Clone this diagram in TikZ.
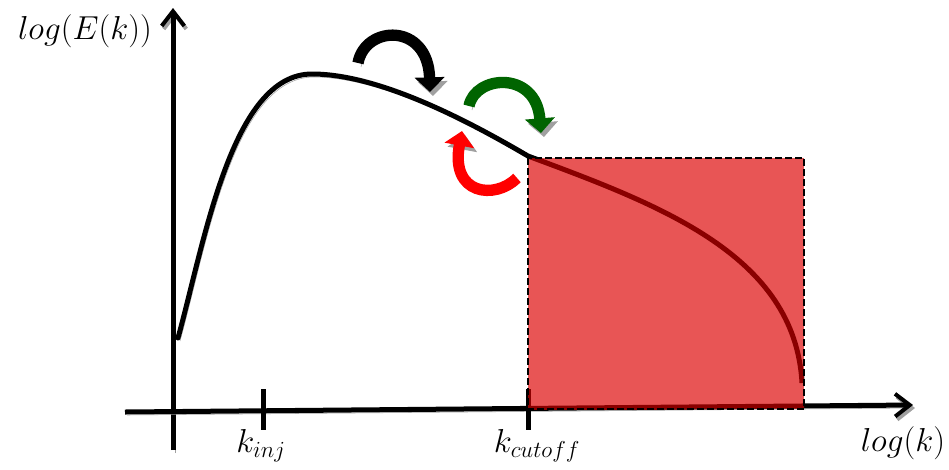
\documentclass[tikz,border=0pt]{standalone}
\usetikzlibrary{arrows.meta}
\definecolor{boxred}{HTML}{E85555}
\definecolor{curvered}{HTML}{8A0000}
\definecolor{curveshadow}{HTML}{C03838}
\definecolor{arrgreen}{HTML}{006400}
\definecolor{shadowgray}{HTML}{A0A0A0}
\begin{document}
\begin{tikzpicture}[x=0.75pt,y=-0.75pt,
  shadowed/.style={preaction={draw=#1,transform canvas={shift={(2,3)}}}},
  shadowed/.default=shadowgray,
  bigshadow/.style={preaction={draw=shadowgray,transform canvas={shift={(3,4)}}}},
  axisline/.style={line width=3.75pt,shadowed},
  axisarrow/.style={axisline,-{Straight Barb[length=11pt,width=17pt,line width=3pt]}},
  tickline/.style={line width=3.75pt},
  spectrum/.style={line width=3.75pt,shadowed},
  fatarrow/.style={line width=8.5pt,bigshadow,-{Triangle[length=11pt,width=22pt]}},
  lbl/.style={font=\fontsize{24}{28}\selectfont},
  cutbox/.style={draw=black,line width=1pt,dash pattern=on 5pt off 2.5pt}
]
\useasboundingbox (0,0) rectangle (949,469);

% axes coordinates
\coordinate (ybot) at (173,450);
\coordinate (ytop) at (173,8);
\coordinate (xleft) at (125,412);
\coordinate (xright) at (913,405);
\coordinate (tinjtop) at (263,389);
\coordinate (tinjbot) at (263,430);
\coordinate (tcuttop) at (528,389);
\coordinate (tcutbot) at (528,430);
\coordinate (boxtl) at (528,158);
\coordinate (boxbr) at (804,409);

% axes
\draw[axisarrow] (ybot) -- (ytop);
\draw[axisarrow] (xleft) -- (xright);
\draw[tickline] (tinjtop) -- (tinjbot);
\draw[tickline] (tcuttop) -- (tcutbot);

% spectrum curve
\coordinate (c0) at (178,338);
\coordinate (c1) at (312,74);
\coordinate (c2) at (528,156);
\coordinate (c3) at (802,383);
\def\spec{(c0) .. controls (205,240) and (232,74) .. (c1) .. controls (380,74) and (470,122) .. (c2) .. controls (660,205) and (795,255) .. (c3)}
\draw[spectrum,line cap=round] \spec;

% cutoff box
\fill[boxred] (boxtl) rectangle (boxbr);
\begin{scope}
  \clip (boxtl) rectangle (boxbr);
  \draw[line width=3.75pt,curvered,shadowed=curveshadow] \spec;
  \draw[line width=3.75pt,curvered] (xleft) -- (xright);
  \draw[line width=3.75pt,curvered] (tcuttop) -- (tcutbot);
\end{scope}
\draw[cutbox] (boxtl) rectangle (boxbr);

% transfer arrows
\coordinate (ba) at (358,63);
\coordinate (bb) at (430,92);
\coordinate (ga) at (469,106);
\coordinate (gb) at (541,133);
\coordinate (ra) at (517,178);
\coordinate (rb) at (462,131);
\draw[fatarrow,black] (ba) .. controls (365,25) and (428,22) .. (bb);
\draw[fatarrow,arrgreen] (ga) .. controls (475,75) and (536,70) .. (gb);
\draw[fatarrow,red] (ra) .. controls (495,200) and (450,195) .. (rb);

% labels
\node[lbl] (ylabel) at (85,31) {$log(E(k))$};
\node[lbl] (kinj) at (261,446) {$k_{inj}$};
\node[lbl] (kcut) at (537,446) {$k_{cutoff}$};
\node[lbl] (xlabel) at (903,443) {$log(k)$};
\end{tikzpicture}
\end{document}
